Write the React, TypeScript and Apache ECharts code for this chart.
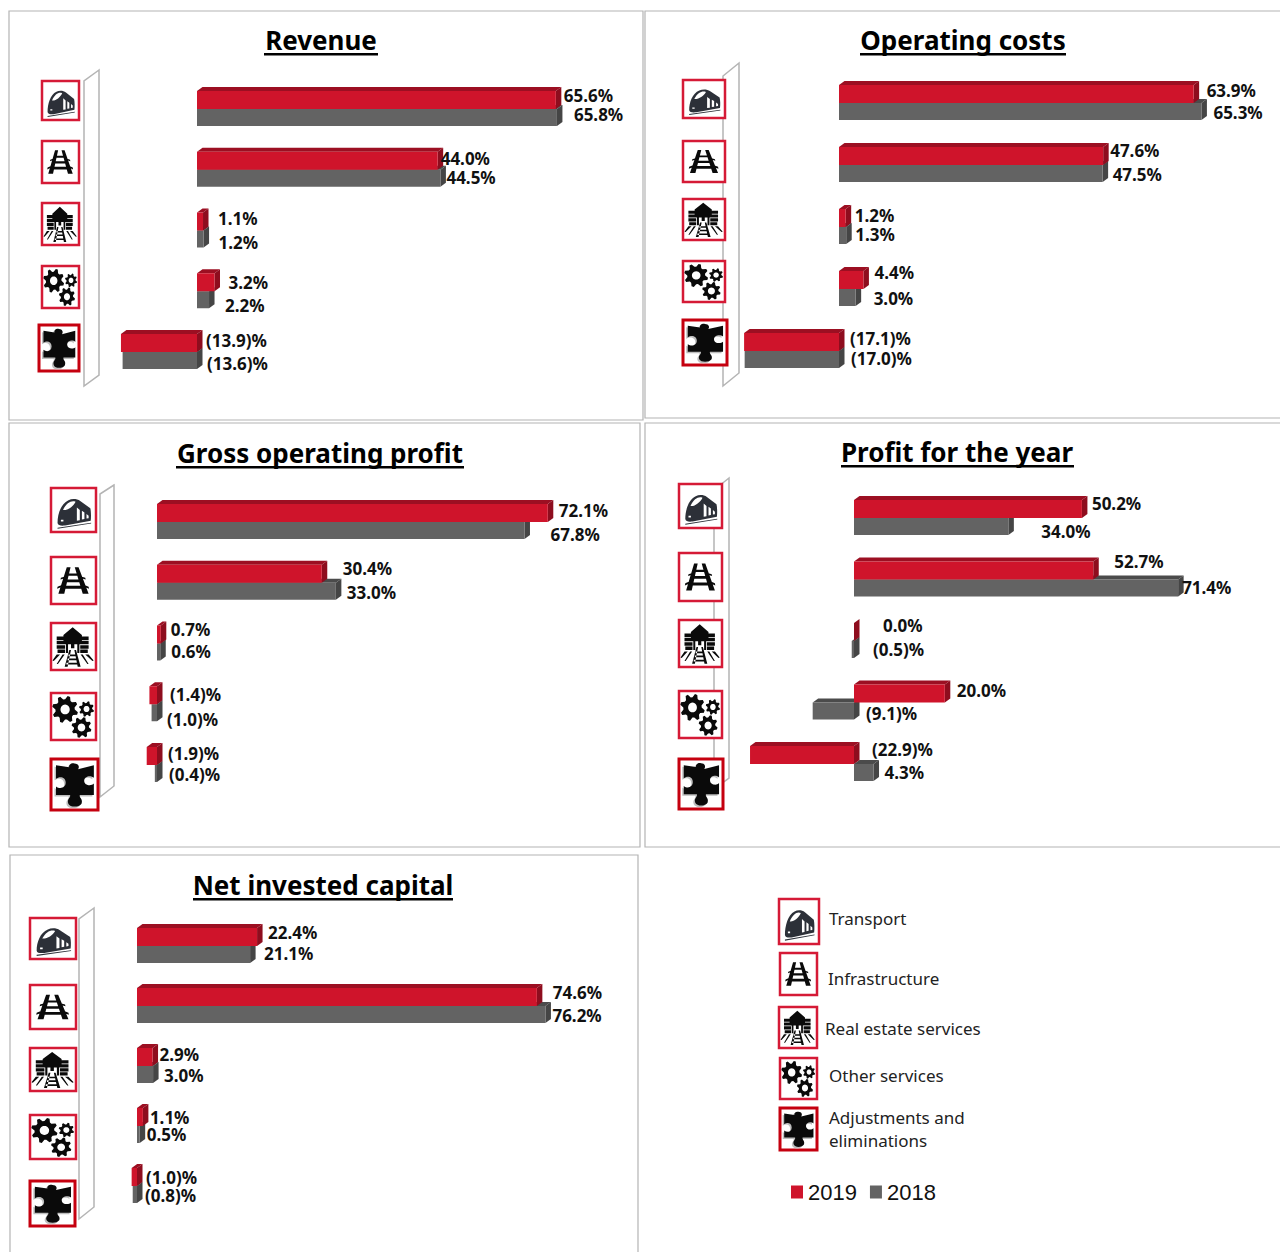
import React, { useEffect, useRef } from "react";
import * as echarts from "echarts";

const categories = ["Transport", "Infrastructure", "Real estate services", "Other services", "Adjustments and eliminations"];
const years = ["2019", "2018"];

const revenue2019 = [65.6, 44.0, 1.1, 3.2, -13.9];
const revenue2018 = [65.8, 44.5, 1.2, 2.2, -13.6];
const costs2019 = [63.9, 47.6, 1.2, 4.4, -17.1];
const costs2018 = [65.3, 47.5, 1.3, 3.0, -17.0];
const gop2019 = [72.1, 30.4, 0.7, -1.4, -1.9];
const gop2018 = [67.8, 33.0, 0.6, -1.0, -0.4];
const profit2019 = [50.2, 52.7, 0.0, 20.0, -22.9];
const profit2018 = [34.0, 71.4, -0.5, -9.1, 4.3];
const capital2019 = [22.4, 74.6, 2.9, 1.1, -1.0];
const capital2018 = [21.1, 76.2, 3.0, 0.5, -0.8];

const FONT = '"Noto Sans", sans-serif';
const RED = "#cf142b";
const RED_TOP = "#9c0f22";
const RED_SIDE = "#8e0d1e";
const GREY = "#636363";
const GREY_TOP = "#4b4b4b";
const GREY_SIDE = "#454545";
const EDGE = "#b4b4b4";
const AX_MIN = -24;
const AX_MAX = 78;

type Box = [number, number, number, number];
const panels: any[] = [
  {
    title: "Revenue", tx: 321, ty: 40, ul: [264, 378, 53], frame: [9, 11, 634, 409],
    zero: 197, scale: 5.47, first: 109, step: 60.75, a: revenue2019, b: revenue2018,
    wall: [[99, 70], [84, 81], [84, 386], [99, 375]],
    icons: [[41, 80, 80, 121], [41, 140, 80, 184], [41, 202, 80, 246], [41, 265, 80, 309], [38, 324, 80, 372]] as Box[],
    dxA: [8, 3, 15, 14, 9], dyA: [-13, -10, -11, -8, -11], dxB: [17, 6, 15, 16, 10], dyB: [6, 9, 13, 15, 12],
  },
  {
    title: "Operating costs", tx: 963, ty: 40, ul: [860, 1066, 53], frame: [645, 11, 640, 407],
    zero: 839, scale: 5.55, first: 103, step: 62, a: costs2019, b: costs2018,
    wall: [[739, 63], [723, 76], [723, 386], [739, 373]],
    icons: [[682, 79, 726, 119], [682, 140, 726, 183], [682, 198, 726, 241], [682, 260, 726, 303], [682, 319, 728, 366]] as Box[],
    dxA: [13, 7, 9, 11, 11], dyA: [-12, -14, -11, -16, -12], dxB: [12, 10, 9, 18, 12], dyB: [10, 10, 8, 10, 8],
  },
  {
    title: "Gross operating profit", tx: 320, ty: 453, ul: [176, 464, 466], frame: [9, 423, 631, 424],
    zero: 157, scale: 5.42, first: 522, step: 60.75, a: gop2019, b: gop2018,
    wall: [[114, 485], [100, 494], [100, 797], [114, 786]],
    icons: [[50, 487, 97, 533], [50, 556, 97, 605], [50, 622, 97, 671], [50, 692, 97, 741], [50, 758, 99, 811]] as Box[],
    dxA: [11, 21, 10, 13, 11], dyA: [-11, -13, -13, -9, -11], dxB: [26, 11, 11, 10, 12], dyB: [13, 11, 9, 16, 10],
  },
  {
    title: "Profit for the year", tx: 957, ty: 452, ul: [841, 1074, 465], frame: [645, 423, 640, 424],
    zero: 854, scale: 4.54, first: 518, step: 61.5, a: profit2019, b: profit2018,
    wall: [[729, 478], [714, 490], [714, 789], [729, 778]],
    icons: [[678, 483, 723, 529], [678, 552, 723, 602], [678, 619, 723, 668], [678, 690, 723, 739], [678, 758, 724, 810]] as Box[],
    dxA: [10, 21, 29, 12, 18], dyA: [-14, -17, -15, -11, -14], dxB: [33, 4, 19, 12, 11], dyB: [14, 9, 9, 12, 9],
  },
  {
    title: "Net invested capital", tx: 323, ty: 885, ul: [193, 453, 898], frame: [10, 855, 628, 410],
    zero: 137, scale: 5.36, first: 946, step: 60, a: capital2019, b: capital2018,
    wall: [[94, 908], [79, 919], [79, 1219], [94, 1207]],
    icons: [[29, 917, 77, 960], [29, 984, 77, 1030], [29, 1047, 77, 1092], [29, 1114, 77, 1160], [29, 1180, 76, 1227]] as Box[],
    dxA: [11, 16, 7, 7, 9], dyA: [-13, -13, -11, -8, -8], dxB: [14, 7, 11, 7, 8], dyB: [8, 10, 10, 9, 10],
  },
];

const legendIcons: Box[] = [[778, 898, 820, 945], [779, 952, 818, 996], [778, 1006, 818, 1049], [779, 1057, 818, 1100], [779, 1107, 818, 1151]];
const legendLabels: [string, number, number][] = [
  ["Transport", 829, 918],
  ["Infrastructure", 828, 978],
  ["Real estate services", 825, 1028],
  ["Other services", 829, 1075],
  ["Adjustments and", 829, 1117],
  ["eliminations", 829, 1140],
];

function gearPath(cx: number, cy: number, ro: number, ri: number, hole: number, teeth: number) {
  const pts: string[] = [];
  const n = teeth * 4;
  for (let i = 0; i < n; i++) {
    const a = (i / n) * Math.PI * 2 + 0.2;
    const r = i % 4 < 2 ? ro : ri;
    pts.push(`${(cx + r * Math.cos(a)).toFixed(2)} ${(cy + r * Math.sin(a)).toFixed(2)}`);
  }
  const hp: string[] = [];
  for (let i = 0; i < 24; i++) {
    const a = -(i / 24) * Math.PI * 2;
    hp.push(`${(cx + hole * Math.cos(a)).toFixed(2)} ${(cy + hole * Math.sin(a)).toFixed(2)}`);
  }
  return `M${pts.join(" L")} Z M${hp.join(" L")} Z`;
}

const trainD =
  "M12 82 C12 60 20 34 38 26 C46 22 58 22 66 28 L90 46 C92 54 92 68 91 76 L30 88 C20 89 13 88 12 82 Z " +
  "M25 50 C35 52 49 42 55 30 C45 26 34 32 25 50 Z M58 44 L58 76 L65 75 L65 50 Z M70 52 L70 73 L76 72 L76 56 Z " +
  "M81 60 L81 71 L86 70 L86 64 Z M20 74 L20 78 L26 78 L26 74 Z M12 93 L92 81 L92 83 L12 96 Z";
const trackD =
  "M34 20 L43 20 L28 80 L14 80 Z M53 20 L62 20 L86 80 L72 80 Z " +
  "M33 34 H62 V39 H32 Z M29 48 H68 V54 H28 Z M24 62 H74 V69 H23 Z " +
  "M20 44 L30 41 L29 45 L19 48 Z M12 64 L22 60 L21 65 L11 69 Z M68 41 L78 44 L79 48 L69 45 Z M76 60 L86 64 L87 69 L77 65 Z";
const stationD =
  "M48 6 L70 24 V45 H26 V24 Z M10 27 H30 V35 H10 Z M10 37 H30 V45 H10 Z M10 47 H30 V55 H10 Z M12 57 H30 V65 H12 Z " +
  "M66 27 H86 V35 H66 Z M66 37 H86 V45 H66 Z M66 47 H86 V55 H66 Z M66 57 H84 V65 H66 Z " +
  "M32 45 H37 V65 H32 Z M59 45 H64 V65 H59 Z M44 45 H52 V54 H44 Z " +
  "M44 58 L40 58 L29 96 L36 96 Z M52 58 L56 58 L67 96 L60 96 Z " +
  "M38 68 H58 V72 H38 Z M36 77 H60 V81 H36 Z M33 87 H63 V91 H33 Z " +
  "M10 68 L0 82 L3 83 L18 68 Z M86 68 L98 82 L95 83 L78 68 Z M24 68 L10 90 L13 90 L29 68 Z M72 68 L86 90 L83 90 L67 68 Z";
const gearsD = gearPath(30, 34, 31, 23, 11, 8) + " " + gearPath(81, 33, 18, 13.5, 7, 8) + " " + gearPath(69, 75, 24, 18, 9, 8);
const puzzleD =
  "M8 10 L38 14 C36 8 44 4 50 6 C60 6 62 14 58 18 L94 10 L94 36 C88 30 72 32 72 42 C72 52 88 54 94 48 L94 72 L62 72 " +
  "C60 78 70 80 66 90 C60 98 40 98 36 90 C32 80 42 78 40 72 L8 72 L8 54 C16 60 30 58 30 46 C30 34 16 32 8 38 Z";

const iconShapes = ["icoTrain", "icoTrack", "icoStation", "icoGears", "icoPuzzle"];
[trainD, trackD, stationD, gearsD, puzzleD].forEach((d, i) => {
  echarts.graphic.registerShape(iconShapes[i], echarts.graphic.extendPath(d, {}));
});

function iconGraphic(kind: number, box: Box) {
  const [x0, y0, x1, y1] = box;
  const w = x1 - x0;
  const h = y1 - y0;
  const sx = (w - 5) / 100;
  const sy = (h - 5) / 100;
  const ox = x0 + 2.5;
  const oy = y0 + 2.5;
  const fill = kind === 0 ? "#2c3038" : "#0a0a0a";
  const kids: any[] = [
    {
      type: "rect",
      shape: { x: x0 + 1, y: y0 + 1, width: w - 2, height: h - 2 },
      style: { fill: "#ffffff", stroke: kind === 4 ? "#c5000f" : "#d51a36", lineWidth: kind === 4 ? 3 : 2.5 },
    },
  ];
  if (kind === 4) {
    kids.push({ type: iconShapes[kind], x: ox - 1.5, y: oy + 1.5, scaleX: sx, scaleY: sy, style: { fill: "#bdbdbd" } });
  }
  kids.push({ type: iconShapes[kind], x: ox, y: oy, scaleX: sx, scaleY: sy, style: { fill } });
  return { type: "group", children: kids };
}

function labelText(v: number) {
  return v < 0 ? `(${Math.abs(v).toFixed(1)})%` : `${v.toFixed(1)}%`;
}

function barSeries(panelIndex: number, isFirstYear: boolean) {
  const p = panels[panelIndex];
  const values: number[] = isFirstYear ? p.a : p.b;
  const dxs: number[] = isFirstYear ? p.dxA : p.dxB;
  const dys: number[] = isFirstYear ? p.dyA : p.dyB;
  const H = 18;
  const DX = 5.5;
  const DY = 4;
  return {
    type: "custom",
    name: isFirstYear ? years[0] : years[1],
    xAxisIndex: panelIndex,
    yAxisIndex: panelIndex,
    silent: true,
    clip: false,
    z: isFirstYear ? 5 : 3,
    itemStyle: { color: isFirstYear ? RED : GREY },
    encode: { x: 0, y: 1 },
    data: values.map((v, i) => [v, i]),
    renderItem: (_params: any, api: any) => {
      const v = api.value(0);
      const i = api.value(1);
      const pZero = api.coord([0, i]);
      const pVal = api.coord([v, i]);
      const x0 = Math.min(pZero[0], pVal[0]);
      const x1 = Math.max(pZero[0], pVal[0]);
      const mid = pZero[1];
      const yt = isFirstYear ? mid - H : mid;
      const yb = isFirstYear ? mid : mid + H - 1;
      const front = isFirstYear ? RED : GREY;
      const top = isFirstYear ? RED_TOP : GREY_TOP;
      const side = isFirstYear ? RED_SIDE : GREY_SIDE;
      const poly = (points: number[][], fill: string) => ({ type: "polygon", shape: { points }, style: { fill } });
      return {
        type: "group",
        children: [
          poly([[x0, yt], [x0 + DX, yt - DY], [x1 + DX, yt - DY], [x1, yt]], top),
          poly([[x1, yt], [x1 + DX, yt - DY], [x1 + DX, yb - DY], [x1, yb]], side),
          { type: "rect", shape: { x: x0, y: yt, width: x1 - x0, height: yb - yt }, style: { fill: front } },
          {
            type: "text",
            style: {
              text: labelText(v),
              x: x1 + dxs[i],
              y: mid + dys[i] - 1,
              fill: "#111111",
              fontFamily: FONT,
              fontWeight: 700,
              fontSize: 17,
              align: "left",
              verticalAlign: "middle",
            },
          },
        ],
      };
    },
  };
}

export default function App() {
  const ref = useRef<HTMLDivElement>(null);
  useEffect(() => {
    document.body.style.margin = "0";
    document.body.style.overflow = "hidden";
    const chart = echarts.init(ref.current!, null, { renderer: "svg" });
    const graphics: any[] = [];
    panels.forEach((p) => {
      graphics.push({
        type: "rect",
        shape: { x: p.frame[0], y: p.frame[1], width: p.frame[2], height: p.frame[3] },
        style: { fill: "#ffffff", stroke: EDGE, lineWidth: 1.2 },
      });
    });
    panels.forEach((p) => {
      graphics.push({ type: "polygon", shape: { points: p.wall }, style: { fill: "#ffffff", stroke: EDGE, lineWidth: 1.5 } });
      graphics.push({
        type: "text",
        style: {
          text: p.title,
          x: p.tx,
          y: p.ty,
          align: "center",
          verticalAlign: "middle",
          fill: "#000000",
          fontFamily: FONT,
          fontWeight: 700,
          fontSize: 26,
        },
      });
      graphics.push({
        type: "rect",
        shape: { x: p.ul[0], y: p.ul[2], width: p.ul[1] - p.ul[0], height: 2.4 },
        style: { fill: "#000000" },
      });
      p.icons.forEach((box: Box, k: number) => graphics.push(iconGraphic(k, box)));
    });
    legendIcons.forEach((box, k) => graphics.push(iconGraphic(k, box)));
    legendLabels.forEach(([text, x, y]) =>
      graphics.push({
        type: "text",
        style: { text, x, y, align: "left", verticalAlign: "middle", fill: "#222222", fontFamily: FONT, fontSize: 17 },
      })
    );

    chart.setOption({
      animation: false,
      backgroundColor: "#ffffff",
      graphic: { elements: graphics },
      legend: {
        left: 791,
        top: 1181,
        data: years,
        icon: "rect",
        itemWidth: 12,
        itemHeight: 13,
        itemGap: 13,
        padding: 0,
        selectedMode: false,
        textStyle: { fontFamily: '"Liberation Sans", sans-serif', fontSize: 22, color: "#111111" },
      },
      grid: panels.map((p) => ({
        left: p.zero + AX_MIN * p.scale,
        width: (AX_MAX - AX_MIN) * p.scale,
        top: p.first - p.step / 2,
        height: p.step * 5,
      })),
      xAxis: panels.map((_p, i) => ({ type: "value", gridIndex: i, min: AX_MIN, max: AX_MAX, show: false })),
      yAxis: panels.map((_p, i) => ({ type: "category", gridIndex: i, data: categories, inverse: true, show: false })),
      series: panels.flatMap((_p, i) => [barSeries(i, false), barSeries(i, true)]),
    });
    return () => chart.dispose();
  }, []);
  return <div ref={ref} style={{ width: 1280, height: 1252 }} />;
}
